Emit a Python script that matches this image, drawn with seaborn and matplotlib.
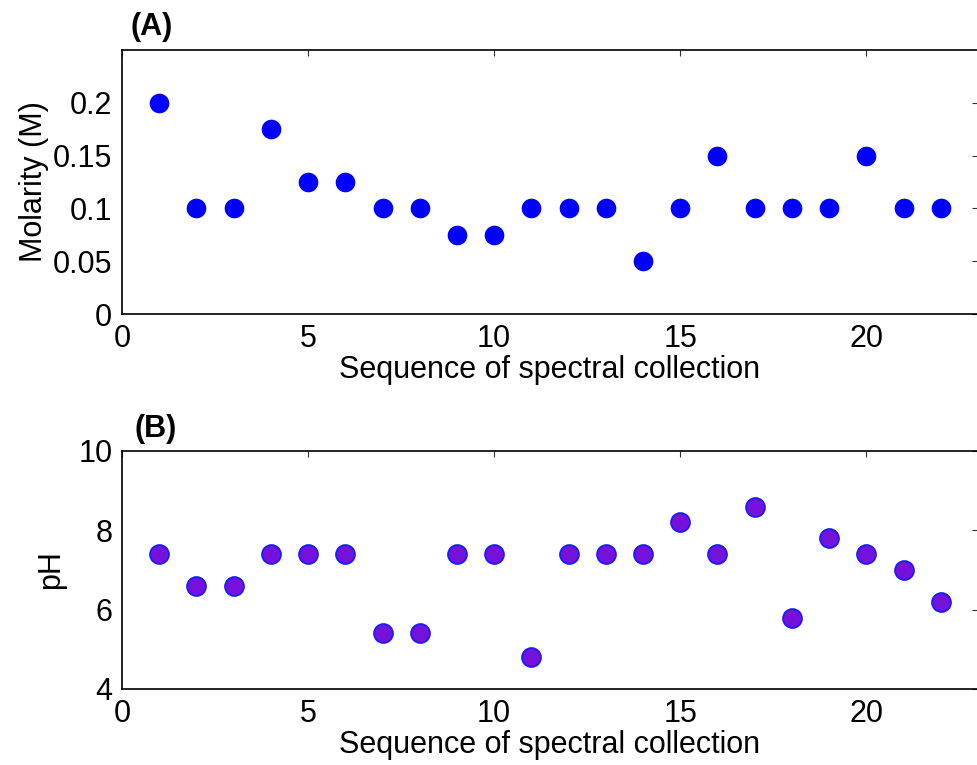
import matplotlib
matplotlib.use("Agg")
import matplotlib.pyplot as plt
import seaborn as sns
import pandas as pd

sequence = list(range(1, 23))
molarity = [0.2, 0.1, 0.1, 0.175, 0.125, 0.125, 0.1, 0.1, 0.075, 0.075, 0.1,
            0.1, 0.1, 0.05, 0.1, 0.15, 0.1, 0.1, 0.1, 0.15, 0.1, 0.1]
ph = [7.4, 6.6, 6.6, 7.4, 7.4, 7.4, 5.4, 5.4, 7.4, 7.4, 4.8,
      7.4, 7.4, 7.4, 8.2, 7.4, 8.6, 5.8, 7.8, 7.4, 7.0, 6.2]
mol_ticks = [0, 0.05, 0.1, 0.15, 0.2]
mol_ticklabels = ["0", "0.05", "0.1", "0.15", "0.2"]
ph_ticks = [4, 6, 8, 10]
x_ticks = [0, 5, 10, 15, 20]

df = pd.DataFrame({"seq": sequence, "mol": molarity, "ph": ph})

sns.set_theme(style="white")
plt.rcParams['font.family'] = ['Liberation Sans', 'DejaVu Sans']

fig = plt.figure(figsize=(9.77, 7.65), dpi=100)
W, H = 977, 765
def pos(l, t, r, b):
    return [l / W, (H - b) / H, (r - l) / W, (b - t) / H]

ax1 = fig.add_axes(pos(122, 50, 978, 314))
ax2 = fig.add_axes(pos(122, 451, 978, 689))

sns.scatterplot(data=df, x="seq", y="mol", ax=ax1, color="#0000FF",
                s=200, linewidth=0, zorder=3)
sns.scatterplot(data=df, x="seq", y="ph", ax=ax2, color="#7412DC",
                edgecolor="#1a1aff", s=185, linewidth=1.3, zorder=3)

FS = 22
for ax in (ax1, ax2):
    ax.set_xlim(0, 23)
    ax.set_xticks(x_ticks)
    ax.set_xticklabels([str(t) for t in x_ticks])
    ax.tick_params(direction="in", length=4, width=0.8, color="#333333",
                   top=True, right=True, labelsize=FS, labelcolor="black")
    ax.tick_params(axis="x", pad=7)
    ax.tick_params(axis="y", pad=7)
    for s in ax.spines.values():
        s.set_color("black")
        s.set_linewidth(1.2)
        s.set_visible(True)
    ax.set_xlabel("Sequence of spectral collection", fontsize=FS,
                  labelpad=1, color="black")
    ax.grid(False)

ax1.set_ylim(0, 0.25)
ax1.set_yticks(mol_ticks)
ax1.set_yticklabels(mol_ticklabels)
ax1.set_ylabel("Molarity (M)", fontsize=FS, labelpad=3, color="black")
ax1.text(0.01, 1.03, "(A)", transform=ax1.transAxes, fontsize=22,
         fontweight="bold", ha="left", va="bottom", color="black")

ax2.set_ylim(4, 10)
ax2.set_yticks(ph_ticks)
ax2.set_yticklabels([str(t) for t in ph_ticks])
ax2.set_ylabel("pH", fontsize=FS, labelpad=9, color="black")
ax2.text(0.015, 1.03, "(B)", transform=ax2.transAxes, fontsize=22,
         fontweight="bold", ha="left", va="bottom", color="black")

fig.savefig("out.png", dpi=100)
